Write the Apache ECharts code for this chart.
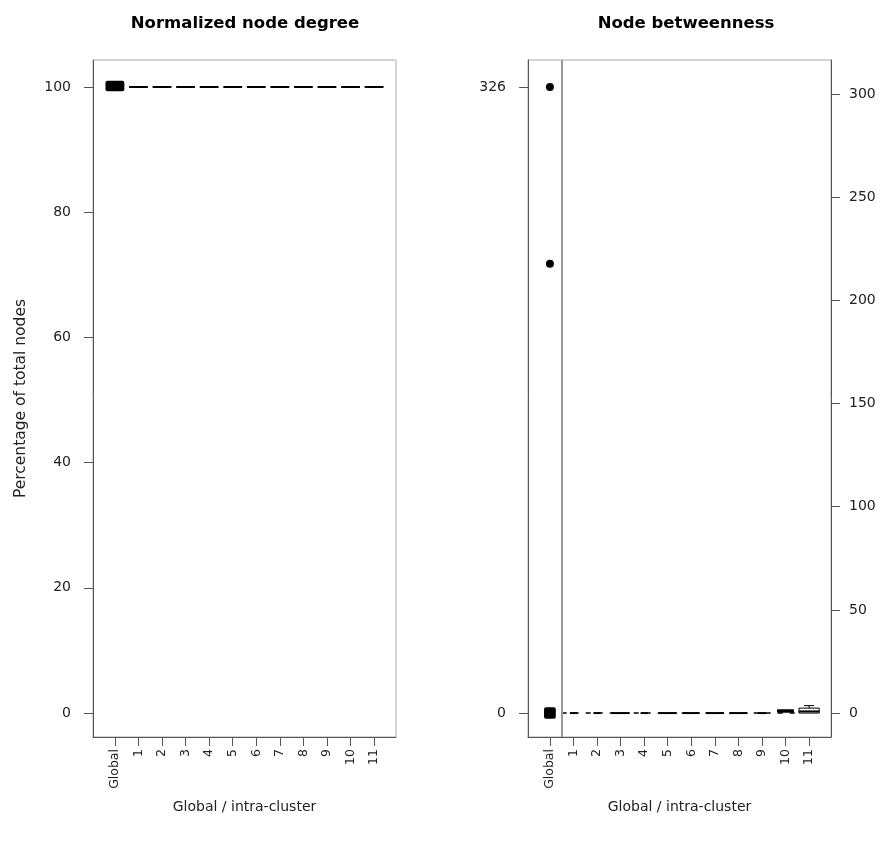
<!DOCTYPE html>
<html>
<head>
<meta charset="utf-8">
<script src="https://cdn.jsdelivr.net/npm/echarts@6/dist/echarts.min.js"></script>
<style>
  html, body { margin: 0; padding: 0; background: #fff; }
  #chart { width: 879px; height: 843px; }
</style>
</head>
<body>
<div id="chart"></div>
<script>
// x categories (position 0 = Global, 1..11 = clusters)
var categories = ['Global', '1', '2', '3', '4', '5', '6', '7', '8', '9', '10', '11'];
var clusterIds = [1, 2, 3, 4, 5, 6, 7, 8, 9, 10, 11];

// Normalized node degree (%)
var degreeTicks = [0, 20, 40, 60, 80, 100];
var degreeGlobalRange = [99.3, 101];          // dense global box near 100
var degreeClusterMedian = [100, 100, 100, 100, 100, 100, 100, 100, 100, 100, 100];

// Node betweenness
var betweenGlobalTicks = [0, 326];
var betweenClusterTicks = [0, 50, 100, 150, 200, 250, 300];
var betweenGlobalOutliers = [326, 234];
var betweenGlobalRange = [-3, 3];
// per cluster: q1, median, q3, upper whisker
var betweenQ1 = [0, 0, 0, 0, 0, 0, 0, 0, 0, 0.4, 0];
var betweenMedian = [0, 0, 0, 0, 0, 0, 0, 0, 0, 1, 0.8];
var betweenQ3 = [0, 0, 0, 0, 0, 0, 0, 0, 0, 1.6, 2.4];
var betweenHigh = [0, 0, 0, 0, 0, 0, 0, 0, 0, 1.6, 3.6];
var clusterSizes = [2, 2, 13, 2, 13, 11, 13, 13, 3, 10, 16];
var zeroSpan = [0.5, 10.6];                   // dashed zero line across clusters

var font = 'DejaVu Sans, Verdana, sans-serif';
var maxRoot = Math.sqrt(Math.max.apply(null, clusterSizes));

var chart = echarts.init(document.getElementById('chart'));

function xAxisFor(gi) {
    return {
        type: 'value', gridIndex: gi, min: -0.93, max: 11.93,
        name: 'Global / intra-cluster', nameLocation: 'middle', nameGap: 63,
        nameTextStyle: { fontSize: 14, color: '#222', fontFamily: font },
        axisLine: { show: true, onZero: false, lineStyle: { color: '#555', width: 1 } },
        axisTick: { show: true, length: 9, customValues: categories.map(function (c, i) { return i; }), lineStyle: { color: '#555' } },
        axisLabel: {
            customValues: categories.map(function (c, i) { return i; }),
            formatter: function (v) { return categories[Math.round(v)]; },
            rotate: 90, margin: 12, fontSize: 12.5, color: '#222', fontFamily: font
        },
        splitLine: { show: false }
    };
}

function yAxisFor(gi, min, max, ticks, pos, margin, extra) {
    var ax = {
        type: 'value', gridIndex: gi, min: min, max: max, position: pos,
        axisLine: { show: true, onZero: false, lineStyle: { color: '#555', width: 1 } },
        axisTick: { show: true, length: 9, customValues: ticks, lineStyle: { color: '#555' } },
        axisLabel: { customValues: ticks, margin: margin, fontSize: 14, color: '#222', fontFamily: font },
        splitLine: { show: false }
    };
    for (var k in extra) ax[k] = extra[k];
    return ax;
}

// filled dark block (overlapping outliers / box)
function blobRender(params, api) {
    var x = api.value(0), lo = api.value(1), hi = api.value(2), hw = api.value(3);
    var a = api.coord([x - hw, hi]);
    var b = api.coord([x + hw, lo]);
    return {
        type: 'rect',
        shape: { x: a[0], y: a[1], width: b[0] - a[0], height: b[1] - a[1], r: 2 },
        style: { fill: '#000' }
    };
}

// R-style box: box q1..q3, thick median, dashed whisker and staple
function boxRender(params, api) {
    var x = api.value(0), q1 = api.value(1), med = api.value(2), q3 = api.value(3), hi = api.value(4), hw = api.value(5);
    var children = [];
    var tl = api.coord([x - hw, q3]);
    var br = api.coord([x + hw, q1]);
    if (br[1] - tl[1] > 0.5) {
        children.push({
            type: 'rect',
            shape: { x: tl[0], y: tl[1], width: br[0] - tl[0], height: br[1] - tl[1] },
            style: { fill: '#fff', stroke: '#000', lineWidth: 1 }
        });
    }
    if (hi > q3) {
        var w0 = api.coord([x, q3]), w1 = api.coord([x, hi]);
        children.push({ type: 'line', shape: { x1: w0[0], y1: w0[1], x2: w1[0], y2: w1[1] }, style: { stroke: '#000', lineWidth: 1, lineDash: [3, 2] } });
        var s0 = api.coord([x - hw / 2, hi]), s1 = api.coord([x + hw / 2, hi]);
        children.push({ type: 'line', shape: { x1: s0[0], y1: s0[1], x2: s1[0], y2: s1[1] }, style: { stroke: '#000', lineWidth: 1 } });
    }
    var m0 = api.coord([x - hw, med]), m1 = api.coord([x + hw, med]);
    children.push({ type: 'line', shape: { x1: m0[0], y1: m0[1], x2: m1[0], y2: m1[1] }, style: { stroke: '#000', lineWidth: 2 } });
    return { type: 'group', children: children };
}

var degreeBoxes = clusterIds.map(function (c, i) {
    var m = degreeClusterMedian[i];
    return [c, m, m, m, m, 0.4];
});
var betweenBoxes = clusterIds.map(function (c, i) {
    return [c, betweenQ1[i], betweenMedian[i], betweenQ3[i], betweenHigh[i], 0.43 * Math.sqrt(clusterSizes[i]) / maxRoot];
});

var titleStyle = { fontSize: 16.5, fontWeight: 'bold', color: '#000', fontFamily: font };

var option = {
    animation: false,
    backgroundColor: '#fff',
    title: [
        { text: 'Normalized node degree', left: 240, top: 10, textAlign: 'center', textStyle: titleStyle },
        { text: 'Node betweenness', left: 681, top: 10, textAlign: 'center', textStyle: titleStyle }
    ],
    grid: [
        { left: 93, top: 60, width: 303, height: 677, show: true, borderColor: '#aaa', borderWidth: 1 },
        { left: 528, top: 60, width: 303, height: 677, show: true, borderColor: '#aaa', borderWidth: 1 }
    ],
    xAxis: [xAxisFor(0), xAxisFor(1)],
    yAxis: [
        yAxisFor(0, -3.83, 104.31, degreeTicks, 'left', 22, {
            name: 'Percentage of total nodes', nameLocation: 'middle', nameGap: 64,
            nameTextStyle: { fontSize: 15.5, color: '#222', fontFamily: font }
        }),
        yAxisFor(1, -12.5, 340.1, betweenGlobalTicks, 'left', 22, {}),
        yAxisFor(1, -11.6, 316.5, betweenClusterTicks, 'right', 18, {})
    ],
    series: [
        { type: 'custom', xAxisIndex: 0, yAxisIndex: 0, renderItem: blobRender,
          data: [[0, degreeGlobalRange[0], degreeGlobalRange[1], 0.4]] },
        { type: 'custom', xAxisIndex: 0, yAxisIndex: 0, renderItem: boxRender, data: degreeBoxes },
        { type: 'line', xAxisIndex: 1, yAxisIndex: 2, symbol: 'none', silent: true,
          lineStyle: { color: '#000', width: 1.5, type: [5, 7] },
          data: zeroSpan.map(function (x) { return [x, 0]; }) },
        { type: 'custom', xAxisIndex: 1, yAxisIndex: 1, renderItem: blobRender,
          data: [[0, betweenGlobalRange[0], betweenGlobalRange[1], 0.25]] },
        { type: 'scatter', xAxisIndex: 1, yAxisIndex: 1, symbolSize: 8,
          itemStyle: { color: '#000', opacity: 1 },
          data: betweenGlobalOutliers.map(function (v) { return [0, v]; }),
          markLine: { silent: true, symbol: 'none', label: { show: false },
                      lineStyle: { color: '#999', width: 2, type: 'solid' },
                      data: [{ xAxis: 0.5 }] } },
        { type: 'custom', xAxisIndex: 1, yAxisIndex: 2, renderItem: boxRender, data: betweenBoxes }
    ]
};
chart.setOption(option);
</script>
</body>
</html>
